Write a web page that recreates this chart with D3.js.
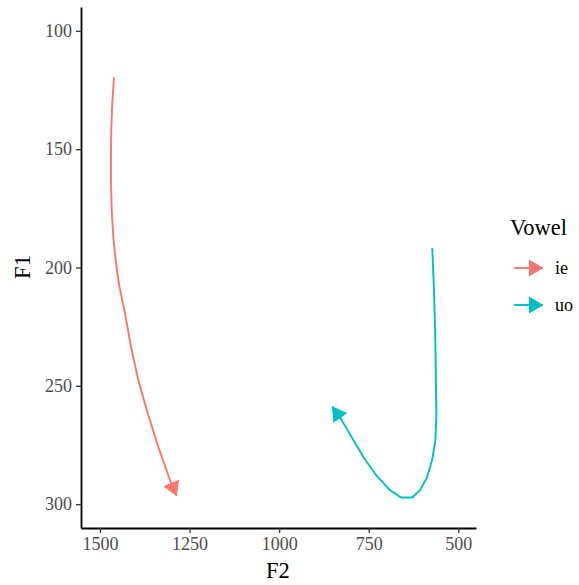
<!DOCTYPE html>
<html>
<head>
<meta charset="utf-8">
<script src="https://d3js.org/d3.v7.min.js"></script>
<style>
  body { margin: 0; background: #fff; }
  text { font-family: "Liberation Serif", "Times New Roman", serif; }
  .domain { stroke: #000; stroke-width: 1.8px; }
  .tick line { stroke: #333; stroke-width: 1.3px; }
</style>
</head>
<body>
<script>
// vowel trajectories (F2, F1 in Hz)
var vowels = ["ie", "uo"];
var colors = ["#F8766D", "#00BFC4"];
var ieF2 = [1461, 1465.7, 1468.5, 1469.3, 1469.3, 1467.3, 1462.9, 1455.3, 1447.5, 1430.2, 1413.5, 1393.1, 1366.9, 1337.3, 1304.6, 1286];
var ieF1 = [119.6, 130.6, 141.9, 153.1, 164.4, 175.7, 187, 198.2, 206.7, 219.4, 233.5, 247.6, 261.6, 275.8, 289.9, 296.5];
var uoF2 = [572.6, 567.8, 564.2, 562.2, 561.2, 564, 573, 588.2, 606.9, 628.4, 659.9, 690.6, 727.7, 762.3, 793.1, 825.4, 851.6];
var uoF1 = [191.9, 209.5, 230.6, 251.8, 263.1, 273, 281.4, 289.1, 294.1, 297.2, 297.2, 294.1, 288.1, 280.7, 272.9, 264.5, 258.8];
var xTicks = [1500, 1250, 1000, 750, 500];
var yTicks = [100, 150, 200, 250, 300];

var width = 579, height = 585;
var svg = d3.select("body").append("svg")
    .attr("width", width)
    .attr("height", height);

// reversed axes as in the vowel plot
var x = d3.scaleLinear().domain([1553, 450.6]).range([81, 476]);
var y = d3.scaleLinear().domain([89.9, 310.1]).range([7, 528]);

var defs = svg.append("defs");
colors.forEach(function (c, i) {
  defs.append("marker")
      .attr("id", "arrow" + i)
      .attr("markerUnits", "userSpaceOnUse")
      .attr("viewBox", "0 -9 15 18")
      .attr("refX", 14)
      .attr("refY", 0)
      .attr("markerWidth", 15)
      .attr("markerHeight", 18)
      .attr("orient", "auto")
    .append("path")
      .attr("d", "M0,-8.5L14.5,0L0,8.5Z")
      .attr("fill", c);
});

var series = [
  ieF2.map(function (d, i) { return [d, ieF1[i]]; }),
  uoF2.map(function (d, i) { return [d, uoF1[i]]; })
];

var line = d3.line()
    .x(function (d) { return x(d[0]); })
    .y(function (d) { return y(d[1]); });

svg.selectAll(".traj")
    .data(series)
  .enter().append("path")
    .attr("class", "traj")
    .attr("d", line)
    .attr("fill", "none")
    .attr("stroke", function (d, i) { return colors[i]; })
    .attr("stroke-width", 1.9)
    .attr("stroke-linejoin", "round")
    .attr("marker-end", function (d, i) { return "url(#arrow" + i + ")"; });

// axes
var fmt = d3.format("d");
var xAxis = svg.append("g")
    .attr("transform", "translate(0,528)")
    .call(d3.axisBottom(x).tickValues(xTicks).tickFormat(fmt).tickSize(5).tickPadding(4).tickSizeOuter(0));
var yAxis = svg.append("g")
    .attr("transform", "translate(81,0)")
    .call(d3.axisLeft(y).tickValues(yTicks).tickFormat(fmt).tickSize(5).tickPadding(4).tickSizeOuter(0));
[xAxis, yAxis].forEach(function (g) {
  g.attr("font-family", "'Liberation Serif', serif").attr("font-size", 18);
  g.selectAll(".tick text").attr("fill", "#4d4d4d");
});

svg.append("text")
    .attr("x", 278)
    .attr("y", 578)
    .attr("text-anchor", "middle")
    .style("font-size", "22.5px")
    .text("F2");
svg.append("text")
    .attr("transform", "translate(30,267) rotate(-90)")
    .attr("text-anchor", "middle")
    .style("font-size", "22.5px")
    .text("F1");

// legend
svg.append("text")
    .attr("x", 510)
    .attr("y", 235)
    .style("font-size", "22.5px")
    .text("Vowel");
var keys = svg.selectAll(".key")
    .data(vowels)
  .enter().append("g")
    .attr("class", "key")
    .attr("transform", function (d, i) { return "translate(0," + (268 + i * 37) + ")"; });
keys.append("line")
    .attr("x1", 514).attr("x2", 543)
    .attr("y1", 0).attr("y2", 0)
    .attr("stroke", function (d, i) { return colors[i]; })
    .attr("stroke-width", 1.9)
    .attr("marker-end", function (d, i) { return "url(#arrow" + i + ")"; });
keys.append("text")
    .attr("x", 555)
    .attr("y", 6)
    .style("font-size", "18px")
    .text(function (d) { return d; });
</script>
</body>
</html>
